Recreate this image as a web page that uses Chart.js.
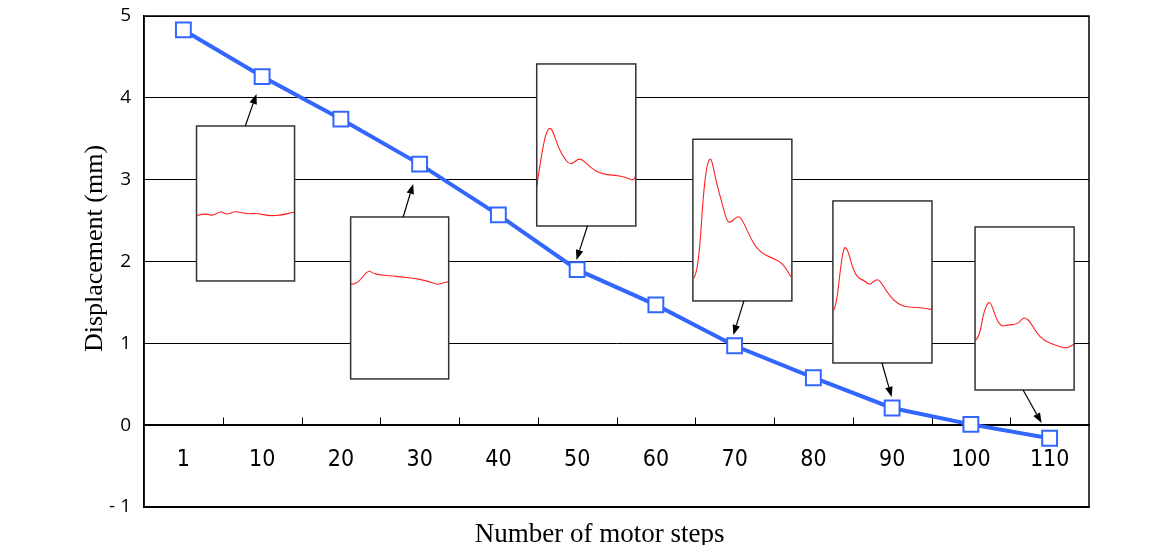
<!DOCTYPE html>
<html><head><meta charset="utf-8">
<script src="https://cdn.jsdelivr.net/npm/chart.js@4/dist/chart.umd.min.js"></script>
<style>html,body{margin:0;padding:0;background:#fff;}canvas{display:block;}</style>
</head><body>
<canvas id="c" width="1150" height="545"></canvas>
<script>
// ---- data ----
const categories = ['1','10','20','30','40','50','60','70','80','90','100','110'];
const displacement = [4.83, 4.26, 3.74, 3.19, 2.57, 1.90, 1.47, 0.97, 0.58, 0.21, 0.01, -0.16];

// inset signal traces: [relative time 0..1, relative amplitude 0..1]
const trace10 = [[0,0.423],[0.10,0.437],[0.16,0.419],[0.25,0.452],[0.31,0.426],[0.39,0.452],[0.52,0.432],[0.62,0.437],[0.74,0.419],[0.88,0.426],[0.98,0.443],[1,0.44]];
const trace30 = [[0,0.586],[0.058,0.580],[0.177,0.673],[0.228,0.652],[0.296,0.642],[0.432,0.636],[0.497,0.631],[0.636,0.622],[0.772,0.607],[0.891,0.580],[0.942,0.594],[1,0.601]];
const trace50 = [[0,0.243],[0.030,0.366],[0.081,0.551],[0.128,0.613],[0.165,0.582],[0.215,0.490],[0.266,0.428],[0.333,0.377],[0.384,0.397],[0.431,0.418],[0.485,0.397],[0.552,0.356],[0.636,0.325],[0.737,0.315],[0.838,0.310],[0.922,0.294],[0.973,0.280],[1,0.309]];
const trace70 = [[0.010,0.140],[0.037,0.171],[0.071,0.336],[0.104,0.645],[0.138,0.831],[0.172,0.886],[0.195,0.861],[0.239,0.728],[0.290,0.614],[0.340,0.501],[0.374,0.481],[0.424,0.511],[0.465,0.526],[0.508,0.490],[0.576,0.398],[0.643,0.326],[0.727,0.284],[0.811,0.264],[0.879,0.243],[0.929,0.212],[0.990,0.150]];
const trace90 = [[0.010,0.327],[0.037,0.369],[0.071,0.554],[0.098,0.677],[0.122,0.722],[0.155,0.687],[0.206,0.574],[0.256,0.523],[0.307,0.512],[0.368,0.481],[0.408,0.502],[0.453,0.519],[0.493,0.492],[0.544,0.440],[0.611,0.389],[0.679,0.358],[0.747,0.344],[0.848,0.344],[0.915,0.338],[0.993,0.331]];
const trace110 = [[0.010,0.307],[0.044,0.327],[0.084,0.471],[0.135,0.546],[0.169,0.521],[0.219,0.429],[0.270,0.388],[0.320,0.399],[0.428,0.403],[0.472,0.434],[0.505,0.446],[0.556,0.419],[0.623,0.348],[0.690,0.307],[0.775,0.282],[0.859,0.266],[0.909,0.256],[0.960,0.266],[1,0.282]];

// ---- layout of insets (in axis units: category index / mm) ----
const insetLayout = [
  {trace: trace10,  x0: 0.167, x1: 1.412,  top: 3.656, bot: 1.762, from: [0.786, 3.656],  to: [0.929, 4.047]},
  {trace: trace30,  x0: 2.124, x1: 3.369,  top: 2.544, bot: 0.565, from: [2.791, 2.544],  to: [2.918, 2.948]},
  {trace: trace50,  x0: 4.487, x1: 5.745,  top: 4.414, bot: 2.434, from: [5.131, 2.434],  to: [4.992, 2.019]},
  {trace: trace70,  x0: 6.470, x1: 7.727,  top: 3.494, bot: 1.518, from: [7.118, 1.518],  to: [6.984, 1.102]},
  {trace: trace90,  x0: 8.248, x1: 9.506,  top: 2.740, bot: 0.760, from: [8.871, 0.760],  to: [8.994, 0.345]},
  {trace: trace110, x0: 10.053, x1: 11.311, top: 2.422, bot: 0.430, from: [10.663, 0.430], to: [10.898, 0.027]}
];

const LINE = '#3366ff';
const NB = '\u00A0';

const framePlugin = {
  id: 'frame',
  beforeDatasetsDraw(chart) {
    const {ctx, chartArea: a, scales} = chart;
    const x = scales.x, y = scales.y;
    ctx.save();
    // upward tick marks on the zero line, at category boundaries
    const y0 = Math.round(y.getPixelForValue(0)) + 0.5;
    ctx.strokeStyle = '#000'; ctx.lineWidth = 1;
    for (let i = 1; i < categories.length; i++) {
      const px = Math.round((x.getPixelForValue(i - 1) + x.getPixelForValue(i)) / 2) + 0.5;
      ctx.beginPath(); ctx.moveTo(px, y0); ctx.lineTo(px, y0 - 8); ctx.stroke();
    }
    // insets
    insetLayout.forEach(L => {
      const bx0 = x.getPixelForValue(L.x0), bx1 = x.getPixelForValue(L.x1);
      const by0 = y.getPixelForValue(L.top), by1 = y.getPixelForValue(L.bot);
      ctx.fillStyle = '#fff';
      ctx.fillRect(bx0, by0, bx1 - bx0, by1 - by0);
      // trace (smoothed through midpoints)
      ctx.save();
      ctx.beginPath(); ctx.rect(bx0, by0, bx1 - bx0, by1 - by0); ctx.clip();
      ctx.strokeStyle = '#ff2020'; ctx.lineWidth = 1.1; ctx.lineJoin = 'round';
      const pts = L.trace.map(p => [bx0 + p[0] * (bx1 - bx0), by1 - p[1] * (by1 - by0)]);
      ctx.beginPath();
      ctx.moveTo(pts[0][0], pts[0][1]);
      for (let i = 1; i < pts.length - 1; i++) {
        const mx = (pts[i][0] + pts[i + 1][0]) / 2, my = (pts[i][1] + pts[i + 1][1]) / 2;
        ctx.quadraticCurveTo(pts[i][0], pts[i][1], mx, my);
      }
      const last = pts[pts.length - 1];
      ctx.lineTo(last[0], last[1]);
      ctx.stroke();
      ctx.restore();
      ctx.strokeStyle = '#333'; ctx.lineWidth = 1.5;
      ctx.strokeRect(bx0, by0, bx1 - bx0, by1 - by0);
      // arrow
      const fx = x.getPixelForValue(L.from[0]), fy = y.getPixelForValue(L.from[1]);
      const tx = x.getPixelForValue(L.to[0]), ty = y.getPixelForValue(L.to[1]);
      const ang = Math.atan2(ty - fy, tx - fx);
      const hl = 10, hw = 3.8;
      const bxp = tx - hl * Math.cos(ang), byp = ty - hl * Math.sin(ang);
      ctx.strokeStyle = '#000'; ctx.lineWidth = 1.2;
      ctx.beginPath(); ctx.moveTo(fx, fy); ctx.lineTo(bxp, byp); ctx.stroke();
      ctx.fillStyle = '#000';
      ctx.beginPath();
      ctx.moveTo(tx, ty);
      ctx.lineTo(bxp + hw * Math.sin(ang), byp - hw * Math.cos(ang));
      ctx.lineTo(bxp - hw * Math.sin(ang), byp + hw * Math.cos(ang));
      ctx.closePath(); ctx.fill();
    });
    // frame
    ctx.strokeStyle = '#000'; ctx.lineWidth = 1.5;
    ctx.strokeRect(a.left, a.top, a.right - a.left, a.bottom - a.top);
    ctx.restore();
  }
};

new Chart(document.getElementById('c'), {
  type: 'line',
  data: {
    labels: categories,
    datasets: [{
      data: displacement,
      borderColor: LINE, borderWidth: 4, tension: 0,
      pointStyle: 'rect', pointRadius: 10.5, pointBorderWidth: 2,
      pointBackgroundColor: '#fff', pointBorderColor: LINE,
      xAxisID: 'x', yAxisID: 'y'
    }]
  },
  options: {
    responsive: false, animation: false, events: [],
    layout: {padding: {top: 16, right: 61, bottom: 0, left: 0}},
    plugins: {legend: {display: false}, tooltip: {enabled: false}},
    scales: {
      x: {
        type: 'category', position: 'bottom', offset: true,
        grid: {display: false}, ticks: {display: false},
        border: {display: true, color: '#000', width: 1.5},
        title: {display: true, text: 'Number of motor steps' + NB.repeat(5), color: '#000',
                font: {family: 'Liberation Serif', size: 27}, padding: {top: 0, bottom: -6}},
        afterFit(s) { s.height = 38; }
      },
      x2: {
        type: 'category', labels: categories, position: {y: 0}, offset: true,
        grid: {display: false, drawTicks: false},
        border: {display: true, color: '#000', width: 1.5},
        ticks: {padding: 21, color: '#000', maxRotation: 0, autoSkip: false,
                font: {family: "'DejaVu Sans Condensed', 'Liberation Sans Narrow', 'Open Sans', sans-serif", size: 23}}
      },
      y: {
        type: 'linear', position: 'left', min: -1, max: 5,
        grid: {color: '#000', lineWidth: 1, drawTicks: false},
        border: {display: true, color: '#000', width: 1.5},
        ticks: {stepSize: 1, padding: 13, color: '#000',
                font: {family: "'Open Sans', sans-serif", size: 19},
                callback: v => v < 0 ? '- ' + Math.abs(v) : String(v)},
        title: {display: true, text: NB.repeat(4) + 'Displacement (mm)', color: '#000',
                font: {family: 'Liberation Serif', size: 26}, padding: {top: 80, bottom: 0}},
        afterFit(s) { s.width = 144; s.paddingTop = 0; s.paddingBottom = 0; }
      }
    }
  },
  plugins: [framePlugin]
});
</script>
</body></html>
